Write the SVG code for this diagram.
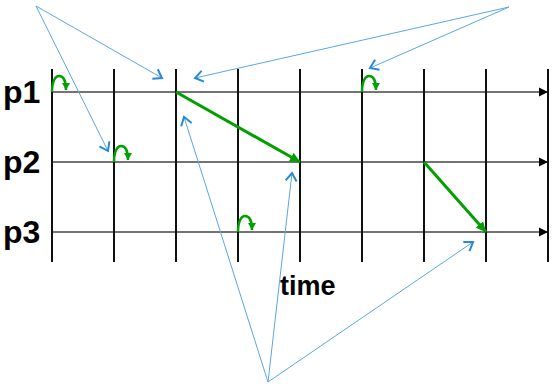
<svg xmlns="http://www.w3.org/2000/svg" width="553" height="386" viewBox="0 0 553 386">
<style>
.lbl{font-family:"Liberation Sans",Arial,sans-serif;font-weight:bold;fill:#000}
.tl{stroke:#444;stroke-width:1.5;fill:none}
.vl{stroke:#111;stroke-width:2;fill:none}
.gr{stroke:#00a000;stroke-width:3;fill:none}
.gl{stroke:#00a000;stroke-width:2.5;fill:none}
.bl{stroke:#5aa6e6;stroke-width:1;fill:none}
</style>
<defs>
<marker id="blk" markerUnits="userSpaceOnUse" markerWidth="12" markerHeight="12" refX="9" refY="6" orient="auto"><path d="M0,1.5 L9,6 L0,10.5 Z" fill="#000"/></marker>
<marker id="grn" markerUnits="userSpaceOnUse" markerWidth="12" markerHeight="12" refX="10" refY="6" orient="auto"><path d="M0,1 L10,6 L0,11 Z" fill="#00a000"/></marker>
<marker id="grs" markerUnits="userSpaceOnUse" markerWidth="10" markerHeight="10" refX="7" refY="5" orient="auto"><path d="M0,1 L7,5 L0,9 Z" fill="#00a000"/></marker>
<marker id="blu" markerUnits="userSpaceOnUse" markerWidth="14" markerHeight="14" refX="9" refY="7" orient="auto"><path d="M1,1.5 L9,7 L1,12.5" fill="none" stroke="#2a88d8" stroke-width="2"/></marker>
</defs>
<g id="timelines">
<line class="tl" x1="52" y1="92" x2="548" y2="92" marker-end="url(#blk)"/>
<line class="tl" x1="52" y1="162" x2="548" y2="162" marker-end="url(#blk)"/>
<line class="tl" x1="52" y1="232" x2="548" y2="232" marker-end="url(#blk)"/>
</g>
<g id="ticks">
<line class="vl" x1="52" y1="69" x2="52" y2="262"/>
<line class="vl" x1="114" y1="69" x2="114" y2="262"/>
<line class="vl" x1="176" y1="69" x2="176" y2="262"/>
<line class="vl" x1="238" y1="69" x2="238" y2="262"/>
<line class="vl" x1="300" y1="69" x2="300" y2="262"/>
<line class="vl" x1="362" y1="69" x2="362" y2="262"/>
<line class="vl" x1="424" y1="69" x2="424" y2="262"/>
<line class="vl" x1="486" y1="69" x2="486" y2="262"/>
<line class="vl" x1="548" y1="69" x2="548" y2="262"/>
</g>
<g id="labels">
<text class="lbl" x="3" y="103" font-size="32">p1</text>
<text class="lbl" x="3" y="173" font-size="32">p2</text>
<text class="lbl" x="3" y="243" font-size="32">p3</text>
<text class="lbl" x="280" y="295" font-size="27">time</text>
</g>
<g id="events">
<path class="gl" d="M52,92 C52,82 55,76 59,76 C64,76 66,82 66,90" marker-end="url(#grs)"/>
<path class="gl" d="M114,162 C114,152 117,146 121,146 C126,146 128,152 128,160" marker-end="url(#grs)"/>
<path class="gl" d="M238,232 C238,222 241,216 245,216 C250,216 252,222 252,230" marker-end="url(#grs)"/>
<path class="gl" d="M362,92 C362,82 365,76 369,76 C374,76 376,82 376,90" marker-end="url(#grs)"/>
</g>
<g id="messages">
<line class="gr" x1="176" y1="92" x2="300" y2="162" marker-end="url(#grn)"/>
<line class="gr" x1="424" y1="162" x2="486" y2="232" marker-end="url(#grn)"/>
</g>
<g id="connectors">
<line class="bl" x1="36" y1="6" x2="162" y2="78" marker-end="url(#blu)"/>
<line class="bl" x1="36" y1="6" x2="108" y2="151" marker-end="url(#blu)"/>
<line class="bl" x1="509" y1="7" x2="195" y2="78" marker-end="url(#blu)"/>
<line class="bl" x1="509" y1="7" x2="370" y2="68" marker-end="url(#blu)"/>
<line class="bl" x1="268" y1="382" x2="184" y2="117" marker-end="url(#blu)"/>
<line class="bl" x1="268" y1="382" x2="292" y2="173" marker-end="url(#blu)"/>
<line class="bl" x1="268" y1="382" x2="473" y2="242" marker-end="url(#blu)"/>
</g>
</svg>
